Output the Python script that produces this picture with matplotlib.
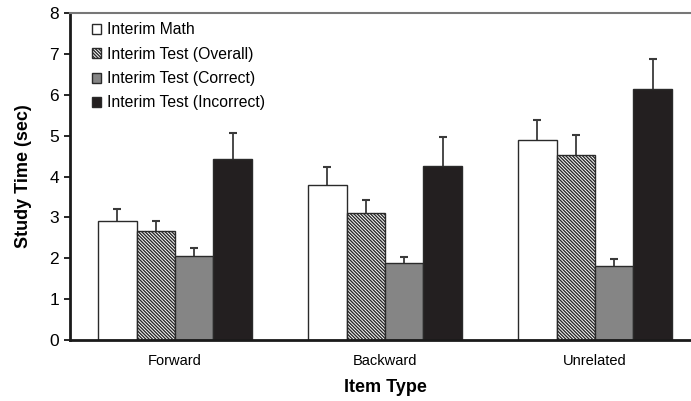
import matplotlib
matplotlib.use("Agg")
import matplotlib.pyplot as plt
from matplotlib.patches import Patch
import numpy as np

plt.rcParams['font.family'] = ['Liberation Sans', 'DejaVu Sans']
plt.rcParams['hatch.linewidth'] = 1.0
plt.rcParams['hatch.color'] = '#333333'

categories = ["Forward", "Backward", "Unrelated"]
series = ["Interim Math", "Interim Test (Overall)", "Interim Test (Correct)", "Interim Test (Incorrect)"]
means = {
    "Interim Math":             [2.92, 3.78, 4.89],
    "Interim Test (Overall)":   [2.66, 3.10, 4.53],
    "Interim Test (Correct)":   [2.05, 1.88, 1.82],
    "Interim Test (Incorrect)": [4.43, 4.25, 6.13],
}
errors = {
    "Interim Math":             [0.28, 0.46, 0.50],
    "Interim Test (Overall)":   [0.24, 0.32, 0.49],
    "Interim Test (Correct)":   [0.20, 0.15, 0.17],
    "Interim Test (Incorrect)": [0.63, 0.72, 0.75],
}
yticks = [0, 1, 2, 3, 4, 5, 6, 7, 8]

styles = {
    "Interim Math":             dict(facecolor="white", hatch=None),
    "Interim Test (Overall)":   dict(facecolor="white", hatch="\\" * 10),
    "Interim Test (Correct)":   dict(facecolor="#858585", hatch=None),
    "Interim Test (Incorrect)": dict(facecolor="#231f20", hatch=None),
}
edge = "#2a2a2a"

fig = plt.figure(figsize=(6.91, 4.01), dpi=100)
ax = fig.add_axes([70/691, 61/401, 630/691, 327/401])

x = np.arange(len(categories))
w = 0.1833
for j, name in enumerate(series):
    pos = x + (j - 1.5) * w
    st = styles[name]
    vals = np.array(means[name])
    tops = vals + np.array(errors[name])
    ax.bar(pos, vals, width=w, facecolor=st["facecolor"], hatch=st["hatch"],
           edgecolor=edge, linewidth=1.0, zorder=2)
    # upper half of the error bar only, with a cap at the top
    ax.vlines(pos, vals, tops, colors="#3a3a3a", linewidth=1.3, zorder=1)
    ax.plot(pos, tops, linestyle="none", marker="_", markersize=6,
            markeredgewidth=1.5, color="#3a3a3a", zorder=1)

ax.set_xlim(-0.5, 2.5)
ax.set_ylim(0, 8)
ax.set_yticks(yticks)
ax.set_xticks(x)
ax.set_xticklabels(categories, fontsize=10.5)
ax.tick_params(axis="x", length=0, pad=10)
ax.tick_params(axis="y", labelsize=12.5, length=4, width=1.2, direction="out", pad=4)

for s in ("left", "bottom"):
    ax.spines[s].set_linewidth(2.0)
    ax.spines[s].set_color("#1a1a1a")
ax.spines["top"].set_color("#777777")
ax.spines["top"].set_linewidth(1.5)
ax.spines["right"].set_visible(False)

ax.set_ylabel("Study Time (sec)", fontsize=13, fontweight="bold", labelpad=12)
ax.set_xlabel("Item Type", fontsize=13, fontweight="bold", labelpad=8)

handles = [Patch(facecolor=styles[n]["facecolor"], hatch=styles[n]["hatch"],
                 edgecolor=edge, linewidth=1.0) for n in series]
ax.legend(handles, series, loc="upper left", bbox_to_anchor=(0.012, 1.015),
          frameon=False, fontsize=11.3, handlelength=0.6, handleheight=0.6,
          handletextpad=0.35, labelspacing=0.6)

fig.savefig("out.png", dpi=100)
